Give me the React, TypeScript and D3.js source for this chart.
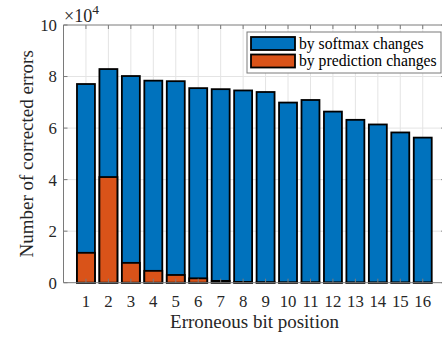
import React from "react";
import * as d3 from "d3";

const positions = [1, 2, 3, 4, 5, 6, 7, 8, 9, 10, 11, 12, 13, 14, 15, 16];
const softmaxChanges = [7.71, 8.29, 8.02, 7.84, 7.82, 7.55, 7.51, 7.46, 7.4, 6.99, 7.09, 6.64, 6.32, 6.14, 5.83, 5.63];
const predictionChanges = [1.16, 4.1, 0.77, 0.46, 0.3, 0.17, 0.07, 0.03, 0.02, 0.015, 0.015, 0.01, 0.01, 0.01, 0.01, 0.01];
const yTicks = [0, 2, 4, 6, 8, 10];
const seriesNames = ["by softmax changes", "by prediction changes"];
const colors = ["#0072BD", "#D95319"];

const W = 442;
const H = 337;
const FONT = "'Liberation Serif', 'Times New Roman', serif";

export default function App() {
  const x = d3.scaleLinear().domain([0, 17]).range([63.5, 445.2]);
  const y = d3.scaleLinear().domain([0, 10]).range([282.7, 25]);
  const bw = (x(1) - x(0)) * 0.8;
  const axisColor = "#7a7a7a";
  const gridColor = "#e4e4e4";
  const left = x(0), right = x(17), top = y(10), bottom = y(0);

  return (
    <svg width={W} height={H} style={{ position: "absolute", left: 0, top: 0, background: "#fff" }} fontFamily={FONT}>
      <rect x={0} y={0} width={W} height={H} fill="#fff" />
      {/* grid */}
      {positions.map((p) => (
        <line key={"gx" + p} x1={x(p)} x2={x(p)} y1={top} y2={bottom} stroke={gridColor} strokeWidth={1} />
      ))}
      {yTicks.slice(1, -1).map((t) => (
        <line key={"gy" + t} x1={left} x2={right} y1={y(t)} y2={y(t)} stroke={gridColor} strokeWidth={1} />
      ))}
      {/* bars */}
      {positions.map((p, i) => (
        <rect key={"b" + p} x={x(p) - bw / 2} y={y(softmaxChanges[i])} width={bw} height={y(0) - y(softmaxChanges[i])}
          fill={colors[0]} stroke="#000" strokeWidth={1.8} />
      ))}
      {positions.map((p, i) => (
        <rect key={"o" + p} x={x(p) - bw / 2} y={y(predictionChanges[i])} width={bw} height={y(0) - y(predictionChanges[i])}
          fill={colors[1]} stroke="#000" strokeWidth={1.8} />
      ))}
      {/* axes box */}
      <line x1={left} x2={right} y1={top} y2={top} stroke={axisColor} strokeWidth={1} />
      <line x1={left} x2={right} y1={bottom} y2={bottom} stroke={axisColor} strokeWidth={1} />
      <line x1={left} x2={left} y1={top} y2={bottom} stroke={axisColor} strokeWidth={1} />
      <line x1={right} x2={right} y1={top} y2={bottom} stroke={axisColor} strokeWidth={1} />
      {/* x ticks */}
      {positions.map((p) => (
        <g key={"xt" + p}>
          <line x1={x(p)} x2={x(p)} y1={bottom} y2={bottom - 4} stroke={axisColor} strokeWidth={1} />
          <line x1={x(p)} x2={x(p)} y1={top} y2={top + 4} stroke={axisColor} strokeWidth={1} />
          <text x={x(p)} y={306.5} textAnchor="middle" fontSize={16.8} fill="#262626">{p}</text>
        </g>
      ))}
      {/* y ticks */}
      {yTicks.map((t) => (
        <g key={"yt" + t}>
          <line x1={left} x2={left + 4} y1={y(t)} y2={y(t)} stroke={axisColor} strokeWidth={1} />
          <line x1={right} x2={right - 4} y1={y(t)} y2={y(t)} stroke={axisColor} strokeWidth={1} />
          <text x={57} y={y(t)} dy="0.35em" textAnchor="end" fontSize={16.8} fill="#262626">{t}</text>
        </g>
      ))}
      {/* exponent */}
      <text x={64} y={21.5} fontSize={18} fill="#262626">
        ×10<tspan dy={-8} fontSize={13.5}>4</tspan>
      </text>
      {/* labels */}
      <text x={254.5} y={328} textAnchor="middle" fontSize={19} fill="#262626">Erroneous bit position</text>
      <text transform={`translate(33, ${(top + bottom) / 2}) rotate(-90)`} textAnchor="middle" fontSize={19} fill="#262626">
        Number of corrected errors
      </text>
      {/* legend */}
      <rect x={247} y={32} width={194} height={41} fill="#fff" stroke="#7a7a7a" strokeWidth={1} />
      {seriesNames.map((s, i) => (
        <g key={s}>
          <rect x={251} y={37 + i * 17.5} width={44} height={13} fill={colors[i]} stroke="#000" strokeWidth={1.8} />
          <text x={299} y={48.5 + i * 17.5} fontSize={15.7} fill="#000">{s}</text>
        </g>
      ))}
    </svg>
  );
}
